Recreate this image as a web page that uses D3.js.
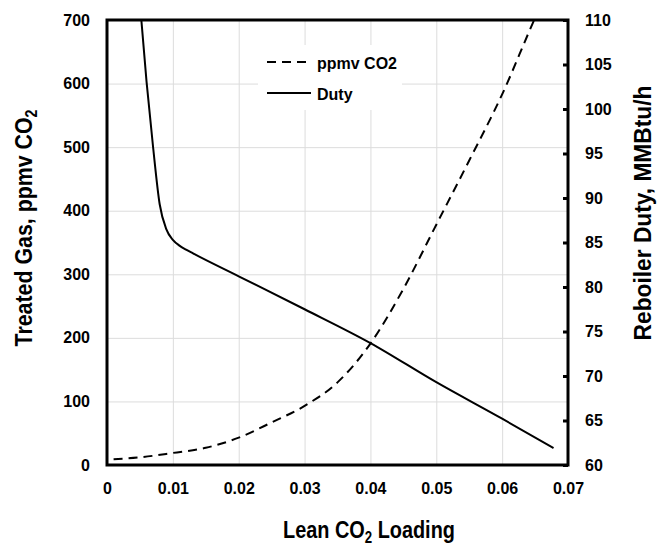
<!DOCTYPE html>
<html>
<head>
<meta charset="utf-8">
<script src="https://cdn.jsdelivr.net/npm/d3@7"></script>
<style>
  body { margin: 0; background: #fff; }
  svg { display: block; font-family: 'Liberation Sans', Arial, sans-serif; }
</style>
</head>
<body>
<svg id="chart" width="660" height="548"></svg>
<script>
// lean loading vs treated gas CO2 (ppmv), left axis
const co2Loading = [0.001, 0.005, 0.01, 0.015, 0.02, 0.025, 0.03, 0.035, 0.04, 0.045, 0.05, 0.055, 0.06, 0.065, 0.0678];
const co2Ppmv = [9, 12, 19, 27, 43, 67, 93, 130, 191, 277, 378, 479, 583, 703, 765];

// lean loading vs reboiler duty (MMBtu/h), right axis
const dutyLoading = [0.005, 0.006, 0.007, 0.008, 0.009, 0.010, 0.011, 0.012, 0.013, 0.02, 0.03, 0.04, 0.05, 0.06, 0.0678];
const dutyValues = [111.9, 103.1, 95.7, 89.3, 86.5, 85.3, 84.65, 84.2, 83.8, 81.2, 77.5, 73.7, 69.3, 65.2, 61.9];

const xTicks = [0, 0.01, 0.02, 0.03, 0.04, 0.05, 0.06, 0.07];
const leftTicks = [0, 100, 200, 300, 400, 500, 600, 700];
const rightTicks = [60, 65, 70, 75, 80, 85, 90, 95, 100, 105, 110];
const legendItems = [
  { label: 'ppmv CO2', dash: '9,6' },
  { label: 'Duty', dash: null }
];

const margin = { top: 20, right: 92, bottom: 83, left: 107 };
const svg = d3.select('#chart');
const width = +svg.attr('width') - margin.left - margin.right;
const height = +svg.attr('height') - margin.top - margin.bottom;

const x = d3.scaleLinear().domain([0, 0.07]).range([0, width]);
const yLeft = d3.scaleLinear().domain([0, 700]).range([height, 0]);
const yRight = d3.scaleLinear().domain([60, 110]).range([height, 0]);

const g = svg.append('g')
  .attr('transform', `translate(${margin.left},${margin.top})`);

svg.append('defs').append('clipPath')
  .attr('id', 'plot-clip')
  .append('rect')
  .attr('width', width)
  .attr('height', height);

// gridlines
const grid = g.append('g').classed('grid', true);
grid.append('g')
  .attr('transform', `translate(0,${height})`)
  .call(d3.axisBottom(x).tickValues(xTicks).tickSize(-height).tickFormat(''));
grid.append('g')
  .call(d3.axisLeft(yLeft).tickValues(leftTicks).tickSize(-width).tickFormat(''));
grid.selectAll('.domain').remove();
grid.selectAll('line').attr('stroke', '#dcdcdc').attr('stroke-width', 1);

// legend background hides the gridlines behind it
g.append('rect')
  .attr('x', 151)
  .attr('y', 25)
  .attr('width', 144)
  .attr('height', 65)
  .attr('fill', '#fff');

// curves
const lines = g.append('g').attr('clip-path', 'url(#plot-clip)');

const co2Line = d3.line()
  .x((d, i) => x(co2Loading[i]))
  .y(d => yLeft(d))
  .curve(d3.curveMonotoneX);

const dutyLine = d3.line()
  .x((d, i) => x(dutyLoading[i]))
  .y(d => yRight(d))
  .curve(d3.curveMonotoneX);

lines.append('path')
  .attr('d', co2Line(co2Ppmv))
  .attr('fill', 'none')
  .attr('stroke', '#000')
  .attr('stroke-width', 2)
  .attr('stroke-dasharray', '9,6');

lines.append('path')
  .attr('d', dutyLine(dutyValues))
  .attr('fill', 'none')
  .attr('stroke', '#000')
  .attr('stroke-width', 2);

// axes
const tickFont = (sel) => sel.selectAll('text')
  .attr('font-size', 16)
  .attr('font-weight', 'bold')
  .attr('fill', '#000')
  .attr('font-family', "'Liberation Sans', Arial, sans-serif");

const xAxis = g.append('g')
  .attr('transform', `translate(0,${height})`)
  .call(d3.axisBottom(x).tickValues(xTicks).tickSize(0).tickPadding(18)
    .tickFormat(d => d === 0 ? '0' : d3.format('.2f')(d)));
xAxis.call(tickFont);
xAxis.select('.domain').remove();

const leftAxis = g.append('g')
  .call(d3.axisLeft(yLeft).tickValues(leftTicks).tickSize(0).tickPadding(17));
leftAxis.call(tickFont);
leftAxis.select('.domain').remove();

const rightAxis = g.append('g')
  .attr('transform', `translate(${width},0)`)
  .call(d3.axisRight(yRight).tickValues(rightTicks).tickSizeInner(-5).tickSizeOuter(0).tickPadding(17));
rightAxis.call(tickFont);
rightAxis.select('.domain').remove();
rightAxis.selectAll('line').attr('stroke', '#000').attr('stroke-width', 3);
rightAxis.selectAll('text').attr('x', 17);

// frame
g.append('rect')
  .attr('width', width)
  .attr('height', height)
  .attr('fill', 'none')
  .attr('stroke', '#000')
  .attr('stroke-width', 3);

// legend
const legend = g.append('g').attr('transform', 'translate(160,42)');
legendItems.forEach((item, i) => {
  const row = legend.append('g').attr('transform', `translate(0,${i * 31})`);
  row.append('line')
    .attr('x1', 0)
    .attr('x2', 44)
    .attr('stroke', '#000')
    .attr('stroke-width', 2)
    .attr('stroke-dasharray', item.dash);
  row.append('text')
    .attr('x', 50)
    .attr('y', 6.5)
    .attr('font-size', 16)
    .attr('font-weight', 'bold')
    .text(item.label);
});

// axis titles (the original uses a condensed face, so squeeze to its width)
const addTitle = (parts, transform, len) => {
  const t = svg.append('text')
    .attr('text-anchor', 'middle')
    .attr('font-size', 24)
    .attr('font-weight', 'bold')
    .attr('fill', '#000');
  let shifted = false;
  parts.forEach(p => {
    const span = t.append('tspan').text(p.text);
    if (p.sub) {
      span.attr('font-size', 16).attr('dy', 5);
      shifted = true;
    } else if (shifted) {
      span.attr('dy', -5);
      shifted = false;
    }
  });
  const sx = len / t.node().getComputedTextLength();
  t.attr('transform', `${transform} scale(${sx},1)`);
  return t;
};

addTitle([{ text: 'Lean CO' }, { text: '2', sub: true }, { text: ' Loading' }],
  'translate(369,538)', 172);
addTitle([{ text: 'Treated Gas, ppmv CO' }, { text: '2', sub: true }],
  'translate(32,228) rotate(-90)', 237);
addTitle([{ text: 'Reboiler Duty, MMBtu/h' }],
  'translate(651,213) rotate(-90)', 255);
</script>
</body>
</html>
